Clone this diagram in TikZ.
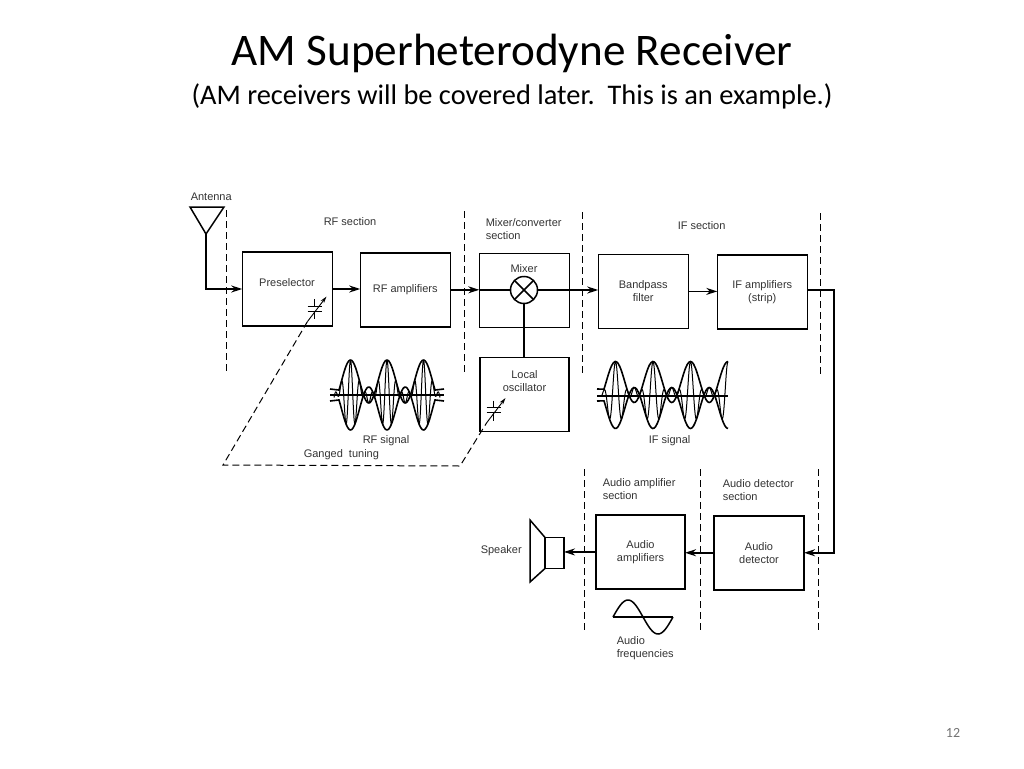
\documentclass[tikz,border=0pt]{standalone}
\usepackage{fontspec}
\setmainfont{Liberation Sans}
\newfontfamily\slidefont{Carlito}
\usetikzlibrary{arrows.meta, positioning}

\begin{document}
\begin{tikzpicture}[
    x=1pt, y=-1pt,
    line width=1.5pt,
    every node/.style={font=\fontsize{11}{13}\selectfont, text=black!80},
    box/.style={draw, rectangle, outer sep=0pt, minimum width=90pt, minimum height=74pt, align=center},
    lbl/.style={align=left, anchor=west, inner sep=0pt},
    sig/.style={-{Stealth[length=11pt,width=7pt]}},
    divider/.style={dash pattern=on 7pt off 4pt, line width=1pt},
    gang/.style={dash pattern=on 7pt off 4pt, line width=1pt},
    envelope/.style={line width=1.6pt},
    carrier/.style={line width=1pt},
    declare function={
        rfenv(\t)=13.5+21.5*cos((\t-387)/36.5*360);
        ifenv(\t)=13+20.5*cos((\t-653)/37.5*360);
    },
    tunecap/.pic={
        \draw[line width=1pt] (0,-9.5) -- (0,-2.5) (0,2.5) -- (0,10.5);
        \draw[line width=1pt] (-7,-2.5) -- (7,-2.5) (-7,2.5) -- (7,2.5);
        \draw[line width=.9pt, -{Stealth[length=7pt,width=4pt]}] (-7,13) -- (12,-12);
    }
]
\useasboundingbox (0,0) rectangle (1024,768);

% Slide title
\node[font=\slidefont\fontsize{45.2}{47}\selectfont, text=black, anchor=base] (title) at (512,66) {AM Superheterodyne Receiver};
\node[font=\slidefont\fontsize{28.4}{30}\selectfont, text=black, anchor=base] (subtitle) at (512,104) {(AM receivers will be covered later.\ \ This is an example.)};
\node[font=\slidefont\fontsize{14}{16}\selectfont, text=black!55] (pagenum) at (953,733) {12};

% Upper row of blocks
\node[box] (pre) at (287.25,289) {};
\node[box, right=28pt of pre, yshift=-.8pt] (rfamp) {RF amplifiers};
\node[box, right=29pt of rfamp, yshift=-.6pt] (mixbox) {};
\node[box, right=29pt of mixbox, yshift=-1pt] (bpf) {Bandpass\\filter};
\node[box, right=29pt of bpf, yshift=-.6pt] (ifamp) {IF amplifiers\\(strip)};

% Block titles and mixer symbol
\node (pretext) at (287,283) {Preselector};
\node (mixtext) at (524,269) {Mixer};
\node[draw, circle, minimum size=27pt, inner sep=0pt, outer sep=0pt] (mixc) at (524,290) {};
\draw (mixc.45) -- (mixc.225) (mixc.135) -- (mixc.315);

% Local oscillator
\node[box, minimum width=89pt, below=30pt of mixbox] (osc) {};
\node[align=center] (osctext) at (524.5,381.5) {Local\\oscillator};

% Lower row of blocks
\node[box] (det) at (759,552.75) {Audio\\detector};
\node[box, left=29pt of det, yshift=.8pt, minimum width=89pt] (audamp) {Audio\\amplifiers};
\node[draw, rectangle, outer sep=0pt, minimum width=19pt, minimum height=31pt, left=32pt of audamp, yshift=-1pt] (spk) {};
\coordinate (conetop) at (530,520);
\coordinate (conebot) at (530,582);
\draw (spk.north west) -- (conetop) -- (conebot) -- (spk.south west);

% Antenna
\coordinate (antl) at (190,207);
\coordinate (antr) at (224,207);
\coordinate (anttip) at (206,234);
\draw (antl) -- (antr) -- (anttip) -- cycle;

% Section dividers
\draw[divider] (226,210) -- (226,372);
\draw[divider] (464.5,211) -- (464.5,372);
\draw[divider] (582.5,212) -- (582.5,373);
\draw[divider] (820.5,213) -- (820.5,375);
\draw[divider] (584,469) -- (584,630);
\draw[divider] (700,469) -- (700,631);
\draw[divider] (818,469) -- (818,632);

% Arrows forward
\draw[sig] (anttip) |- (pre);
\draw[sig] (pre.east) -- (pre.east -| rfamp.west);
\draw[sig] (rfamp.east) -- (rfamp.east -| mixbox.west);
\draw (mixbox.west |- mixc) -- (mixc.west);
\draw[sig] (mixc.east) -- (mixc.east -| bpf.west);
\draw[sig] (bpf.east) -- (bpf.east -| ifamp.west);
\draw (mixc.south) -- (mixc.south |- osc.north);
\coordinate (ifdrop) at (834,400);
\draw[sig] ([yshift=2pt]ifamp.east) -| (ifdrop) |- (det.east);
\draw[sig] (det.west) -- (det.west -| audamp.east);
\draw[sig] (audamp.west) -- (audamp.west -| spk.east);

% Ganged tuning
\pic at (314.5,308.5) {tunecap};
\pic at (493.5,410) {tunecap};
\coordinate (capa) at (307.5,321.5);
\coordinate (capb) at (486.5,423);
\coordinate (gangl) at (223,465);
\coordinate (gangr) at (460,466);
\draw[gang] (capa) -- (gangl) -- (gangr) -- (capb);

% RF signal
\draw[line width=1.1pt] (330,395) -- (444,395);
\draw[envelope] (330,389) -- plot[domain=339:435, samples=70, smooth] (\x,{395-rfenv(\x)}) -- (444,389);
\draw[envelope] (330,401) -- plot[domain=339:435, samples=70, smooth] (\x,{395+rfenv(\x)}) -- (444,401);
\draw[carrier] plot[domain=334:440, samples=300, smooth] (\x,{395-rfenv(\x)*cos((\x-387)/36.5*1440)});

% IF signal
\draw[line width=1.1pt] (597,396) -- (728,396);
\draw[envelope] (597,389) -- plot[domain=604:728, samples=80, smooth] (\x,{395-ifenv(\x)});
\draw[envelope] (597,401) -- plot[domain=604:728, samples=80, smooth] (\x,{395+ifenv(\x)});
\draw[carrier] plot[domain=601:728, samples=300, smooth] (\x,{395-ifenv(\x)*cos((\x-653)/37.5*1080)});

% Audio signal
\draw[line width=1.1pt] (613,617) -- (673,617);
\draw[line width=1.5pt] plot[domain=613:673, samples=50, smooth] (\x,{617-17*sin((\x-613)/60*360)});

% Labels
\node[lbl] (antlabel) at (190,197) {Antenna};
\node[lbl] (rfsec) at (323,222) {RF section};
\node[lbl] (mixsec) at (485,229.5) {Mixer/converter\\section};
\node[lbl] (ifsec) at (677,226) {IF section};
\node[lbl] (rfsig) at (362,441) {RF signal};
\node[lbl] (gangtext) at (303,455) {Ganged\ \ tuning};
\node[lbl] (ifsig) at (648,441) {IF signal};
\node[lbl] (ampsec) at (602,489.5) {Audio amplifier\\section};
\node[lbl] (detsec) at (722,490.5) {Audio detector\\section};
\node[lbl] (spklabel) at (480,551) {Speaker};
\node[lbl] (audfreq) at (616,648.5) {Audio\\frequencies};

\end{tikzpicture}
\end{document}
